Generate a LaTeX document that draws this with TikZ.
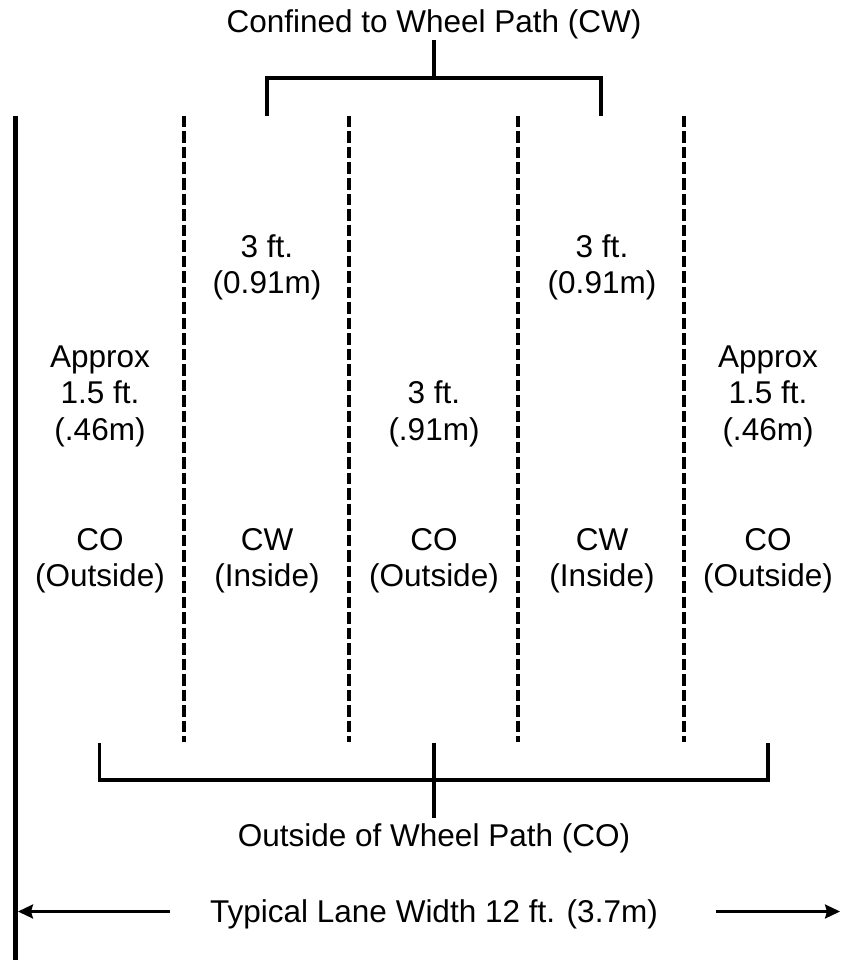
\documentclass[tikz,border=0pt]{standalone}
\usepackage{fontspec}
\setmainfont{Liberation Sans}
\usetikzlibrary{arrows.meta}
\begin{document}
\begin{tikzpicture}[x=1pt,y=-1pt,
  lbl/.style={font=\fontsize{31.5}{36.5}\selectfont, anchor=base, inner sep=0pt},
  lane/.style={line width=3.5pt, dash pattern=on 11.5pt off 4pt},
  brk/.style={line width=3.5pt},
  edge/.style={line width=5pt},
  dimarrow/.style={line width=2.5pt, -{Stealth[length=15pt,width=14pt,inset=2pt]}}]
\useasboundingbox (0,0) rectangle (841,960);

% lane edge
\coordinate (e1) at (15,116);
\coordinate (e2) at (15,960);
\draw[edge] (e1) -- (e2);

% dashed lane divisions
\foreach \x [count=\i] in {184,349,518,684}{
  \coordinate (d\i t) at (\x,116);
  \coordinate (d\i b) at (\x,742);
  \draw[lane] (d\i t) -- (d\i b);
}

% top bracket
\node[lbl] (title) at (434,33) {Confined to Wheel Path (CW)};
\coordinate (ts) at (434,40);
\coordinate (tm) at (434,78);
\coordinate (tl) at (267,116.5);
\coordinate (tr) at (601,116.5);
\draw[brk] (ts) -- (tm);
\draw[brk] (tl) |- (tm) -| (tr);

% bottom bracket
\coordinate (bl) at (99.5,742.5);
\coordinate (br) at (768,742.5);
\coordinate (bt) at (434,742.5);
\coordinate (bm) at (434,780);
\coordinate (bs) at (434,818);
\draw[brk] (bl) |- (bm) -| (br);
\draw[brk] (bt) -- (bs);
\node[lbl] (outside) at (434,846) {Outside of Wheel Path (CO)};

% lane width
\node[lbl] (lanew) at (434,922) {Typical Lane Width 12 ft. (3.7m)};
\coordinate (la) at (170,911.5);
\coordinate (lt) at (18,911.5);
\coordinate (ra) at (716,911.5);
\coordinate (rt) at (840,911.5);
\draw[dimarrow] (la) -- (lt);
\draw[dimarrow] (ra) -- (rt);

% column 1
\node[lbl] (c1a) at (100,367) {Approx};
\node[lbl] (c1b) at (100,403.5) {1.5 ft.};
\node[lbl] (c1c) at (100,440) {(.46m)};
\node[lbl] (c1d) at (100,550) {CO};
\node[lbl] (c1e) at (100,586.5) {(Outside)};
% column 2
\node[lbl] (c2a) at (267,257) {3 ft.};
\node[lbl] (c2b) at (267,293.5) {(0.91m)};
\node[lbl] (c2d) at (267,550) {CW};
\node[lbl] (c2e) at (267,586.5) {(Inside)};
% column 3
\node[lbl] (c3a) at (434,403.5) {3 ft.};
\node[lbl] (c3b) at (434,440) {(.91m)};
\node[lbl] (c3d) at (434,550) {CO};
\node[lbl] (c3e) at (434,586.5) {(Outside)};
% column 4
\node[lbl] (c4a) at (602,257) {3 ft.};
\node[lbl] (c4b) at (602,293.5) {(0.91m)};
\node[lbl] (c4d) at (602,550) {CW};
\node[lbl] (c4e) at (602,586.5) {(Inside)};
% column 5
\node[lbl] (c5a) at (768,367) {Approx};
\node[lbl] (c5b) at (768,403.5) {1.5 ft.};
\node[lbl] (c5c) at (768,440) {(.46m)};
\node[lbl] (c5d) at (768,550) {CO};
\node[lbl] (c5e) at (768,586.5) {(Outside)};
\end{tikzpicture}
\end{document}
